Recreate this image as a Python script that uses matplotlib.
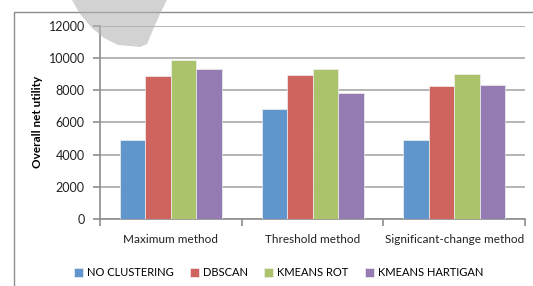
import matplotlib
matplotlib.use("Agg")
import matplotlib.pyplot as plt
from matplotlib.patches import Rectangle, Polygon
import numpy as np

plt.rcParams['font.family'] = ['Lato', 'DejaVu Sans']

categories = ["Maximum method", "Threshold method", "Significant-change method"]
series_names = ["NO CLUSTERING", "DBSCAN", "KMEANS ROT", "KMEANS HARTIGAN"]
no_clustering = [4930, 6800, 4930]
dbscan = [8890, 8930, 8270]
kmeans_rot = [9860, 9290, 9020]
kmeans_hartigan = [9300, 7830, 8310]
yticks = [0, 2000, 4000, 6000, 8000, 10000, 12000]
colors = ["#6096CC", "#CF645F", "#ABC46C", "#947CB2"]

W, H = 533, 286
fig = plt.figure(figsize=(W / 100, H / 100), dpi=100)

# watermark swoosh (background decoration, semi-transparent on top)
pts = np.array([(72, 0), (80, 14), (92, 28), (104, 38), (118, 45), (140, 47),
                (147, 44), (152, 32), (160, 14), (167, 0)], dtype=float)
pts[:, 1] = H - pts[:, 1]
wm = Polygon(pts / [W, H], closed=True, transform=fig.transFigure,
             facecolor="#b4b4b4", alpha=0.6, edgecolor="none", zorder=10)

# outer chart frame
frame = Rectangle((14 / W, -0.1), 1.2, (H - 12) / H + 0.1, transform=fig.transFigure,
                  facecolor="none", edgecolor="#8c8c8c", linewidth=1.0, zorder=1)
fig.patches.append(frame)

left, right = 100 / W, 525 / W
bottom, top = 1 - 219 / H, 1 - 25.7 / H
ax = fig.add_axes([left, bottom, right - left, top - bottom])
ax.set_zorder(2)
ax.patch.set_alpha(0)

x = np.arange(len(categories))
bw = 0.18
data = [no_clustering, dbscan, kmeans_rot, kmeans_hartigan]
handles = []
for i, (vals, c, name) in enumerate(zip(data, colors, series_names)):
    b = ax.bar(x + (i - 1.5) * bw, vals, width=bw, color=c, edgecolor="#f0f0f0",
               linewidth=0.5, label=name, zorder=3)
    handles.append(b)

ax.set_xlim(-0.5, 2.5)
ax.set_ylim(0, 12000)
ax.set_yticks(yticks)
ax.set_yticklabels([str(v) for v in yticks], fontsize=9, color="#222222")
ax.yaxis.grid(True, color="#a8a8a8", linewidth=1.2, zorder=0)
ax.set_axisbelow(True)

# x axis: category boundary ticks, labels centered
ax.set_xticks([-0.5, 0.5, 1.5, 2.5])
ax.set_xticklabels([])
ax.set_xticks(x, minor=True)
ax.set_xticklabels(categories, minor=True, fontsize=8.5, color="#222222")
ax.tick_params(axis="x", which="minor", length=0, pad=11)
ax.tick_params(axis="x", which="major", length=5, color="#8c8c8c", width=1.2)
ax.tick_params(axis="y", length=5, color="#8c8c8c", width=1.2, pad=6)

for s in ["top", "right"]:
    ax.spines[s].set_visible(False)
for s in ["left", "bottom"]:
    ax.spines[s].set_color("#8c8c8c")
    ax.spines[s].set_linewidth(1.2)

ax.set_ylabel("Overall net utility", fontsize=8.5, fontweight="bold", labelpad=4)

fig.legend(handles=handles, labels=series_names, loc="center",
           bbox_to_anchor=(278.5 / W, 1 - 273 / H), ncol=4, frameon=False,
           fontsize=8, handlelength=0.8, handleheight=0.8, handletextpad=0.35,
           columnspacing=1.5, borderaxespad=0)

fig.artists.append(wm)
wm.set_figure(fig)

fig.savefig("out.png", dpi=100)
